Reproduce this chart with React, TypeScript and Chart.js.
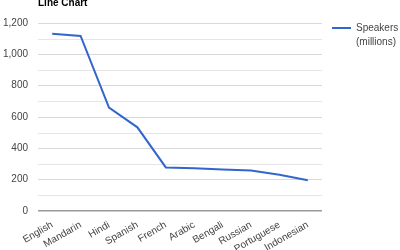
import React, { useEffect, useRef } from "react";
import { Chart, registerables } from "chart.js";

Chart.register(...registerables);

const languages = ["English", "Mandarin", "Hindi", "Spanish", "French", "Arabic", "Bengali", "Russian", "Portuguese", "Indonesian"];
const speakers = [1132, 1117, 660, 534, 278, 273, 265, 258, 232, 196];
const seriesLabel = ["Speakers", "(millions)"];
const chartTitle = "Line Chart";
const minorGridValues = [100, 300, 500, 700, 900, 1100];

const FONT = "'Liberation Sans', Arial, sans-serif";

const overlayPlugin = {
  id: "overlay",
  beforeDatasetsDraw(chart: any) {
    const ctx = chart.ctx;
    const y = chart.scales.y;
    const { left, right } = chart.chartArea;
    ctx.save();
    ctx.strokeStyle = "#e6e6e6";
    ctx.lineWidth = 1;
    minorGridValues.forEach((v) => {
      const py = Math.round(y.getPixelForValue(v)) + 0.5;
      ctx.beginPath();
      ctx.moveTo(left, py);
      ctx.lineTo(right, py);
      ctx.stroke();
    });
    ctx.restore();
  },
  afterDraw(chart: any) {
    const ctx = chart.ctx;
    ctx.save();
    ctx.fillStyle = "#000";
    ctx.font = `bold 10px ${FONT}`;
    ctx.textBaseline = "alphabetic";
    ctx.textAlign = "left";
    ctx.fillText(chartTitle, chart.chartArea.left, 6);
    // legend
    const top = chart.chartArea.top;
    ctx.strokeStyle = "#3366cc";
    ctx.lineWidth = 2;
    ctx.beginPath();
    ctx.moveTo(332, top + 5);
    ctx.lineTo(351, top + 5);
    ctx.stroke();
    ctx.fillStyle = "#444";
    ctx.font = `10px ${FONT}`;
    ctx.textBaseline = "middle";
    seriesLabel.forEach((t, i) => ctx.fillText(t, 356, top + 5 + i * 14));
    ctx.restore();
  },
};

export default function App() {
  const ref = useRef<HTMLCanvasElement>(null);
  useEffect(() => {
    const chart = new Chart(ref.current!, {
      type: "line",
      data: {
        labels: languages,
        datasets: [
          {
            label: seriesLabel.join(" "),
            data: speakers,
            borderColor: "#3366cc",
            backgroundColor: "#3366cc",
            borderWidth: 2,
            pointRadius: 0,
            tension: 0,
          },
        ],
      },
      options: {
        animation: false,
        responsive: false,
        layout: { padding: { top: 23, right: 78, left: 0, bottom: 0 } },
        plugins: { legend: { display: false }, title: { display: false }, tooltip: { enabled: false } },
        scales: {
          x: {
            offset: true,
            grid: { display: false, drawTicks: false },
            border: { display: false },
            ticks: {
              minRotation: 30,
              maxRotation: 30,
              autoSkip: false,
              padding: 8,
              color: "#444",
              font: { family: FONT, size: 10 },
            },
            afterFit(scale: any) {
              scale.height = 39;
            },
          },
          y: {
            min: 0,
            max: 1200,
            border: { display: false },
            grid: {
              drawTicks: false,
              color: (c: any) => (c.tick && c.tick.value === 0 ? "#999" : "#d9d9d9"),
              lineWidth: (c: any) => (c.tick && c.tick.value === 0 ? 1.5 : 1),
            },
            ticks: {
              stepSize: 200,
              padding: 10,
              color: "#444",
              font: { family: FONT, size: 10 },
              callback: (v: any) => Number(v).toLocaleString("en-US"),
            },
            afterFit(scale: any) {
              scale.width = 38;
            },
          },
        },
      },
      plugins: [overlayPlugin],
    });
    return () => chart.destroy();
  }, []);
  return (
    <div style={{ position: "fixed", left: 0, top: 0, width: 400, height: 250, background: "#fff" }}>
      <canvas ref={ref} width={400} height={250} style={{ width: 400, height: 250 }} />
    </div>
  );
}
